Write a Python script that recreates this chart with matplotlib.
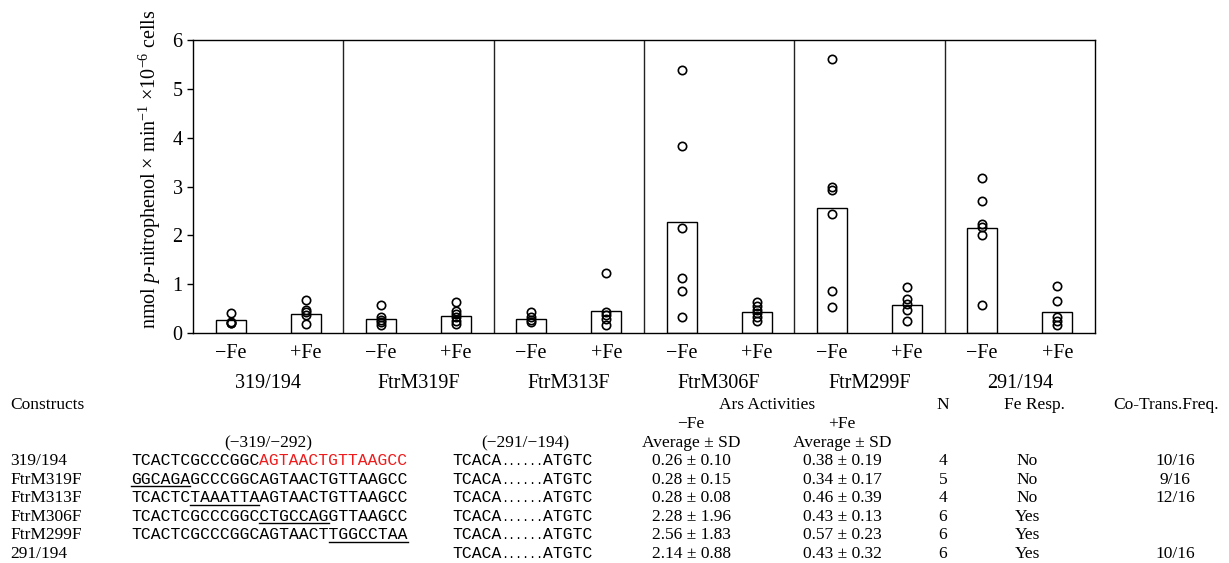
import matplotlib
matplotlib.use('Agg')
import matplotlib.pyplot as plt
from matplotlib.lines import Line2D
import matplotlib.transforms as mtransforms

plt.rcParams['font.family'] = ['Liberation Serif', 'DejaVu Serif']
plt.rcParams['mathtext.fontset'] = 'custom'
plt.rcParams['mathtext.rm'] = 'Liberation Serif'
plt.rcParams['mathtext.it'] = 'Liberation Serif:italic'

# ---------------- data ----------------
constructs = ['319/194', 'FtrM319F', 'FtrM313F', 'FtrM306F', 'FtrM299F', '291/194']
conditions = ['\u2212Fe', '+Fe']
mean_minus = [0.26, 0.28, 0.28, 2.28, 2.56, 2.14]
mean_plus = [0.38, 0.34, 0.46, 0.43, 0.57, 0.43]
sd_minus = ['0.10', '0.15', '0.08', '1.96', '1.83', '0.88']
sd_plus = ['0.19', '0.17', '0.39', '0.13', '0.23', '0.32']
points_minus = [
    [0.40, 0.22, 0.20, 0.21],
    [0.57, 0.32, 0.27, 0.22, 0.17],
    [0.44, 0.33, 0.27, 0.22],
    [5.39, 3.82, 2.16, 1.12, 0.87, 0.33],
    [5.62, 3.00, 2.93, 2.44, 0.87, 0.53],
    [3.18, 2.70, 2.23, 2.18, 2.01, 0.58],
]
points_plus = [
    [0.68, 0.48, 0.42, 0.36, 0.18],
    [0.64, 0.46, 0.39, 0.32, 0.25, 0.18],
    [1.22, 0.44, 0.36, 0.29, 0.17],
    [0.63, 0.56, 0.48, 0.40, 0.32, 0.25],
    [0.94, 0.70, 0.59, 0.48, 0.25],
    [0.97, 0.66, 0.32, 0.25, 0.17],
]
n_values = ['4', '5', '4', '6', '6', '6']
fe_resp = ['No', 'No', 'No', 'Yes', 'Yes', 'Yes']
cotrans = ['10/16', '9/16', '12/16', '', '', '10/16']
seq_5prime = [
    'TCACTCGCCCGGCAGTAACTGTTAAGCC',
    'GGCAGAGCCCGGCAGTAACTGTTAAGCC',
    'TCACTCTAAATTAAGTAACTGTTAAGCC',
    'TCACTCGCCCGGCCTGCCAGGTTAAGCC',
    'TCACTCGCCCGGCAGTAACTTGGCCTAA',
    '',
]
underline_spans = [None, (0, 6), (6, 13), (13, 20), (20, 28), None]
red_span = (13, 28)
seq_3prime_left, seq_3prime_dots, seq_3prime_right = 'TCACA', '......', 'ATGTC'
yticks = [0, 1, 2, 3, 4, 5, 6]

# ---------------- layout helpers ----------------
W, H = 1229, 563
def fx(x):
    return x / W
def fy(y):
    return 1 - y / H

fig = plt.figure(figsize=(W / 100, H / 100), dpi=100)
ax = fig.add_axes([fx(193), fy(333), fx(1095) - fx(193), fy(40) - fy(333)])

xm = [2 * i + 0.5 for i in range(len(constructs))]
xp = [2 * i + 1.5 for i in range(len(constructs))]

ax.bar(xm, mean_minus, width=0.4, color='white', edgecolor='black', linewidth=1.0, zorder=2)
ax.bar(xp, mean_plus, width=0.4, color='white', edgecolor='black', linewidth=1.0, zorder=2)
for i in range(len(constructs)):
    ax.plot([xm[i]] * len(points_minus[i]), points_minus[i], 'o', mfc='none', mec='black',
            ms=6, mew=1.2, zorder=3)
    ax.plot([xp[i]] * len(points_plus[i]), points_plus[i], 'o', mfc='none', mec='black',
            ms=6, mew=1.2, zorder=3)
for i in range(1, len(constructs)):
    ax.axvline(2 * i, color='#222222', lw=1.0, zorder=1)

ax.set_xlim(0, 2 * len(constructs))
ax.set_ylim(0, 6)
ax.set_yticks(yticks)
ax.set_yticklabels([str(t) for t in yticks])
ticks_x = []
labels_x = []
for i in range(len(constructs)):
    ticks_x += [xm[i], xp[i]]
    labels_x += conditions
ax.set_xticks(ticks_x)
ax.set_xticklabels(labels_x)
ax.tick_params(axis='y', direction='out', length=4.5, width=1, pad=3, labelsize=14.5)
ax.tick_params(axis='x', length=0, pad=8, labelsize=14.5)
for s in ax.spines.values():
    s.set_linewidth(1.0)

trans = mtransforms.blended_transform_factory(ax.transData, fig.transFigure)
for i, c in enumerate(constructs):
    ax.text(2 * i + 1, fy(384), c, transform=trans, ha='center', va='center', fontsize=14.5)

fig.text(fx(150), fy(169), r'nmol $p$-nitrophenol $\times$ min$^{-1}$ $\times$10$^{-6}$ cells',
         rotation=90, ha='center', va='center', fontsize=14.5)

# ---------------- table ----------------
fs = 12.5
def T(x, y, s, ha='center', **kw):
    return fig.text(fx(x), fy(y + 5), s, ha=ha, va='baseline', fontsize=fs, **kw)

T(10, 404, 'Constructs', ha='left')
T(767, 404, 'Ars Activities')
T(943, 404, 'N')
T(1034, 404, 'Fe Resp.')
T(1166, 404, 'Co-Trans.Freq.')
T(691, 423, '\u2212Fe')
T(842, 423, '+Fe')
T(268, 442, '(\u2212319/\u2212292)')
T(525, 442, '(\u2212291/\u2212194)')
T(691, 442, 'Average \u00b1 SD')
T(842, 442, 'Average \u00b1 SD')

row_y = [460 + 18.6 * i for i in range(len(constructs))]
for i, c in enumerate(constructs):
    y = row_y[i]
    T(10, y, c, ha='left')
    T(691, y, f'{mean_minus[i]:.2f} \u00b1 {sd_minus[i]}')
    T(842, y, f'{mean_plus[i]:.2f} \u00b1 {sd_plus[i]}')
    T(943, y, n_values[i])
    T(1027, y, fe_resp[i])
    if cotrans[i]:
        T(1175, y, cotrans[i])

# sequences in monospace
mono = 'Liberation Mono'
mfs = 11.84
fig.canvas.draw()
renderer = fig.canvas.get_renderer()
probe = fig.text(0, 0, 'A' * 28, family=mono, fontsize=mfs)
cw = probe.get_window_extent(renderer).width / 28.0
probe.remove()
probe = fig.text(0, 0, '.' * 6, family=mono, fontsize=8.4)
dotw = probe.get_window_extent(renderer).width
probe.remove()

seq_x = 131
for i, s in enumerate(seq_5prime):
    y = row_y[i] + 5
    if not s:
        continue
    if i == 0:
        fig.text(fx(seq_x), fy(y), s[:red_span[0]], family=mono, fontsize=mfs, va='baseline', ha='left')
        fig.text(fx(seq_x + red_span[0] * cw), fy(y), s[red_span[0]:red_span[1]], family=mono,
                 fontsize=mfs, va='baseline', ha='left', color='#ee1c1c')
    else:
        fig.text(fx(seq_x), fy(y), s, family=mono, fontsize=mfs, va='baseline', ha='left')
    if underline_spans[i] is not None:
        a, b = underline_spans[i]
        fig.add_artist(Line2D([fx(seq_x + a * cw), fx(seq_x + b * cw)], [fy(y + 2.5), fy(y + 2.5)],
                              color='black', lw=1.0, transform=fig.transFigure))

x3 = 452
for i in range(len(constructs)):
    y = row_y[i] + 5
    fig.text(fx(x3), fy(y), seq_3prime_left, family=mono, fontsize=mfs, va='baseline', ha='left')
    xd = x3 + 5 * cw
    fig.text(fx(xd), fy(y), seq_3prime_dots, family=mono, fontsize=8.4, va='baseline', ha='left')
    fig.text(fx(xd + dotw), fy(y), seq_3prime_right, family=mono, fontsize=mfs, va='baseline', ha='left')

fig.savefig('out.png', dpi=100)
